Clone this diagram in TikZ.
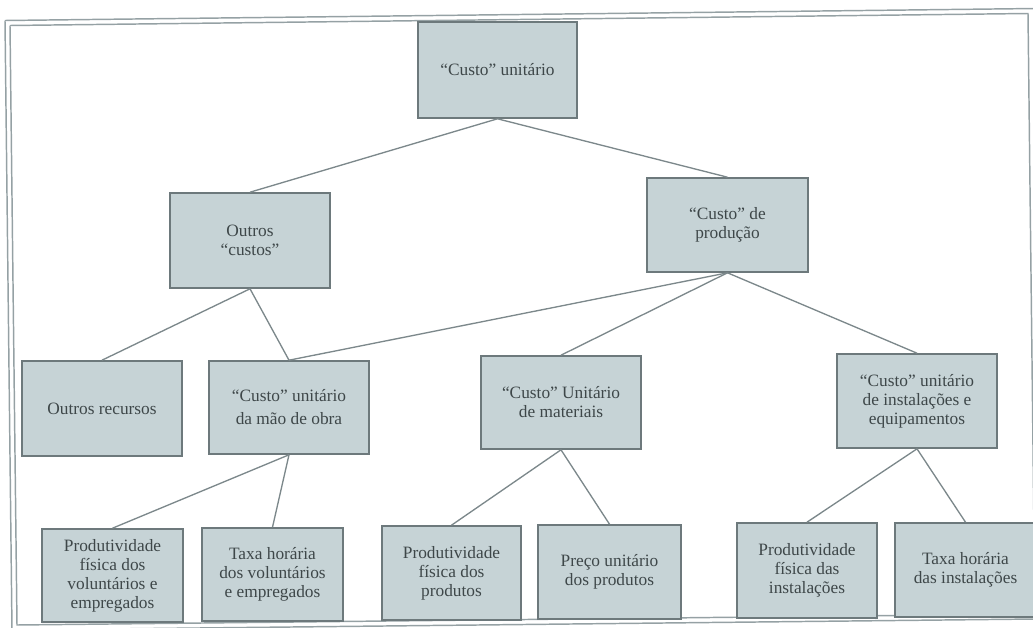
\documentclass[tikz,border=0pt]{standalone}
\usepackage{fontspec}
\setmainfont{Liberation Serif}
\definecolor{boxfill}{HTML}{C6D3D6}
\definecolor{boxline}{HTML}{6D797C}
\definecolor{linkline}{HTML}{7C888B}
\definecolor{framecol}{HTML}{95A1A4}
\definecolor{txt}{HTML}{3E4749}
\begin{document}
\begin{tikzpicture}[x=0.75pt,y=-0.75pt,
  box/.style={draw=boxline, line width=1.2pt, fill=boxfill, align=center,
    text=txt, font=\fontsize{13}{14.3}\selectfont, inner sep=0pt},
  sz/.style 2 args={minimum width=#1*0.75pt, minimum height=#2*0.75pt},
  link/.style={draw=linkline, line width=1pt},
  frameline/.style={draw=framecol, line width=1.1pt}]
\useasboundingbox (0,0) rectangle (1033,628);

% double page frame, slightly skewed
\draw[frameline] (5,20.5) -- (1036,8.5);
\draw[frameline] (5,20.5) -- (12,630);
\draw[frameline] (10,25.5) -- (1028,13.5) -- (1035,620);
\draw[frameline] (10,25.5) -- (17,625) -- (1035,614);
\draw[frameline] (12,630) -- (1036,619);

% level 0
\node[box, sz={159}{96}] (top) at (497.5,70) {“Custo” unitário};
% level 1
\node[box, sz={160}{95}] (oc) at (250,240.5) {Outros\\“custos”};
\node[box, sz={161}{94}] (cp) at (727.5,225) {“Custo” de\\produção};
% level 2
\node[box, sz={160}{95}] (or) at (102,408.5) {Outros recursos};
\node[box, sz={160}{93}] (mo) at (289,407.5) {“Custo” unitário\\[3pt]da mão de obra};
\node[box, sz={160}{93}] (mat) at (561,402.5) {“Custo” Unitário\\de materiais};
\node[box, sz={160}{94}] (inst) at (917,401) {“Custo” unitário\\de instalações e\\equipamentos};
% level 3
\node[box, sz={141}{93}] (b1) at (112.5,575.5) {Produtividade\\física dos\\voluntários e\\empregados};
\node[box, sz={141}{93}] (b2) at (272.5,574.5) {Taxa horária\\dos voluntários\\e empregados};
\node[box, sz={139}{94}] (b3) at (451.5,573) {Produtividade\\física dos\\produtos};
\node[box, sz={143}{94}] (b4) at (609.5,572) {Preço unitário\\dos produtos};
\node[box, sz={140}{95}] (b5) at (807,570.5) {Produtividade\\física das\\instalações};
\node[box, sz={141}{94}] (b6) at (965.5,570) {Taxa horária\\das instalações};

% connectors
\draw[link] (top.south) -- (oc.north);
\draw[link] (top.south) -- (cp.north);
\draw[link] (oc.south) -- (or.north);
\draw[link] (oc.south) -- (mo.north);
\draw[link] (cp.south) -- (mo.north);
\draw[link] (cp.south) -- (mat.north);
\draw[link] (cp.south) -- (inst.north);
\draw[link] (mo.south) -- (b1.north);
\draw[link] (mo.south) -- (b2.north);
\draw[link] (mat.south) -- (b3.north);
\draw[link] (mat.south) -- (b4.north);
\draw[link] (inst.south) -- (b5.north);
\draw[link] (inst.south) -- (b6.north);
\end{tikzpicture}
\end{document}
